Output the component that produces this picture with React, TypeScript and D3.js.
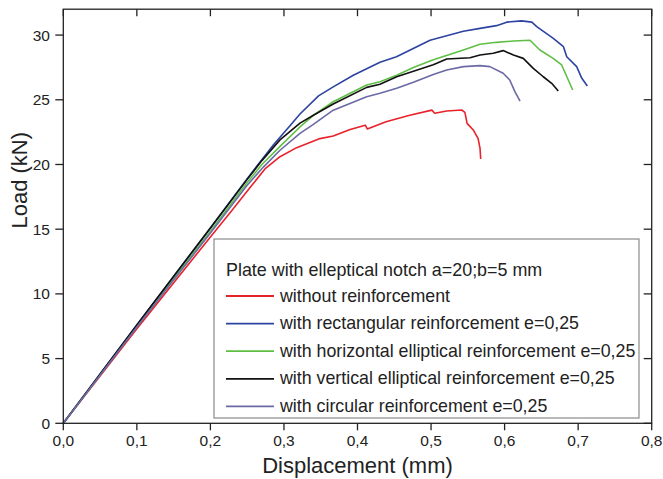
import React from 'react';
import * as d3 from 'd3';

const xTickValues = [0, 0.1, 0.2, 0.3, 0.4, 0.5, 0.6, 0.7, 0.8];
const xTickLabels = ['0,0', '0,1', '0,2', '0,3', '0,4', '0,5', '0,6', '0,7', '0,8'];
const yTickValues = [0, 5, 10, 15, 20, 25, 30];

const legendTitle = 'Plate with elleptical notch a=20;b=5 mm';
const seriesNames = [
  'without reinforcement',
  'with rectangular reinforcement e=0,25',
  'with horizontal elliptical reinforcement e=0,25',
  'with vertical elliptical reinforcement e=0,25',
  'with circular reinforcement e=0,25',
];
const seriesColors = ['#e8222b', '#2d43a0', '#5fbf45', '#111111', '#6a6aa6'];

// without reinforcement
const redX = [0, 0.1, 0.2, 0.23, 0.255, 0.275, 0.2946, 0.3173, 0.349, 0.367, 0.39, 0.4106, 0.4133, 0.4388, 0.471, 0.5011, 0.505, 0.5213, 0.5417, 0.546, 0.549, 0.5574, 0.564, 0.5666, 0.5675];
const redY = [0, 7.3, 14.4, 16.5, 18.3, 19.7, 20.6, 21.3, 22.0, 22.2, 22.7, 23.04, 22.75, 23.3, 23.8, 24.2, 23.96, 24.13, 24.21, 24.03, 23.18, 22.67, 22.0, 21.25, 20.42];

// rectangular
const blueX = [0, 0.1, 0.2, 0.25, 0.2855, 0.3082, 0.3218, 0.347, 0.367, 0.3943, 0.4306, 0.453, 0.4986, 0.5439, 0.5666, 0.589, 0.6029, 0.623, 0.637, 0.6437, 0.6662, 0.68, 0.6845, 0.698, 0.705, 0.7125];
const blueY = [0, 7.6, 15.1, 18.9, 21.5, 23.0, 23.9, 25.3, 26.0, 26.9, 27.9, 28.33, 29.6, 30.3, 30.52, 30.73, 31.0, 31.1, 31.0, 30.65, 29.75, 29.1, 28.33, 27.56, 26.66, 26.07];

// horizontal elliptical
const greenX = [0, 0.1, 0.2, 0.25, 0.27, 0.2946, 0.3218, 0.34, 0.367, 0.4125, 0.4306, 0.4533, 0.476, 0.503, 0.544, 0.5666, 0.589, 0.612, 0.6345, 0.648, 0.666, 0.6776, 0.6866, 0.6926];
const greenY = [0, 7.5, 14.85, 18.6, 20.0, 21.4, 22.9, 23.8, 24.85, 26.14, 26.4, 26.9, 27.5, 28.1, 28.85, 29.29, 29.44, 29.54, 29.6, 28.85, 28.2, 27.69, 26.53, 25.76];

// vertical elliptical
const blackX = [0, 0.1, 0.2, 0.25, 0.27, 0.2946, 0.3218, 0.34, 0.367, 0.4125, 0.4306, 0.4533, 0.476, 0.503, 0.5213, 0.553, 0.5666, 0.5846, 0.598, 0.612, 0.6254, 0.639, 0.6526, 0.664, 0.673];
const blackY = [0, 7.6, 15.1, 18.85, 20.3, 21.9, 23.2, 23.8, 24.67, 25.96, 26.2, 26.78, 27.2, 27.7, 28.15, 28.25, 28.46, 28.6, 28.8, 28.46, 28.2, 27.43, 26.78, 26.27, 25.68];

// circular
const purpleX = [0, 0.1, 0.2, 0.25, 0.272, 0.2946, 0.3218, 0.34, 0.367, 0.4125, 0.4306, 0.4533, 0.476, 0.503, 0.5213, 0.544, 0.5666, 0.58, 0.598, 0.607, 0.614, 0.621];
const purpleY = [0, 7.45, 14.7, 18.4, 19.8, 21.1, 22.4, 23.1, 24.2, 25.24, 25.5, 25.89, 26.35, 26.95, 27.3, 27.56, 27.64, 27.56, 27.05, 26.53, 25.63, 24.9];

const seriesX = [redX, blueX, greenX, blackX, purpleX];
const seriesY = [redY, blueY, greenY, blackY, purpleY];

const W = 663;
const H = 479;
const FONT = 'Liberation Sans, Arial, Helvetica, sans-serif';

export default function App() {
  const x = d3.scaleLinear().domain([0, 0.8]).range([63.3, 651.7]);
  const y = d3.scaleLinear().domain([0, 32]).range([423.3, 9.2]);
  const line = d3
    .line<[number, number]>()
    .x((d) => x(d[0]))
    .y((d) => y(d[1]));

  const [x0, x1] = x.range();
  const [y0, y1] = y.range();

  const legend = { x: 214, y: 239, w: 425, h: 179 };
  const rowY = (i: number) => 301.5 + i * 27.6;

  return (
    <svg
      width={W}
      height={H}
      style={{ position: 'absolute', left: 0, top: 0, background: '#fff' }}
      fontFamily={FONT}
    >
      <rect x={0} y={0} width={W} height={H} fill="#fff" />
      {/* curves */}
      {seriesX.map((xs, i) => (
        <path
          key={i}
          d={line(xs.map((v, j) => [v, seriesY[i][j]] as [number, number])) || ''}
          fill="none"
          stroke={seriesColors[i]}
          strokeWidth={1.6}
          strokeLinejoin="round"
        />
      ))}
      {/* frame */}
      <rect x={x0} y={y1} width={x1 - x0} height={y0 - y1} fill="none" stroke="#222" strokeWidth={1.3} />
      {/* x ticks */}
      {xTickValues.map((v, i) => (
        <g key={'xt' + i}>
          <line x1={x(v)} x2={x(v)} y1={y0} y2={y0 + 7} stroke="#222" strokeWidth={1.3} />
          <line x1={x(v)} x2={x(v)} y1={y1} y2={y1 + 7} stroke="#222" strokeWidth={1.3} />
          <text x={x(v)} y={446} textAnchor="middle" fontSize={15.5} fill="#222">
            {xTickLabels[i]}
          </text>
        </g>
      ))}
      {/* y ticks */}
      {yTickValues.map((v, i) => (
        <g key={'yt' + i}>
          <line x1={x0 - 8} x2={x0} y1={y(v)} y2={y(v)} stroke="#222" strokeWidth={1.3} />
          <line x1={x1 - 8} x2={x1} y1={y(v)} y2={y(v)} stroke="#222" strokeWidth={1.3} />
          <text x={50} y={y(v)} dy="0.35em" textAnchor="end" fontSize={15.5} fill="#222">
            {v}
          </text>
        </g>
      ))}
      {/* axis titles */}
      <text x={(x0 + x1) / 2} y={473} textAnchor="middle" fontSize={22} fill="#222">
        Displacement (mm)
      </text>
      <text
        transform={`translate(27,${(y0 + y1) / 2 - 36}) rotate(-90)`}
        textAnchor="middle"
        fontSize={22}
        fill="#222"
      >
        Load (kN)
      </text>
      {/* legend */}
      <rect
        x={legend.x}
        y={legend.y}
        width={legend.w}
        height={legend.h}
        fill="#fff"
        stroke="#8a8a8a"
        strokeWidth={1.2}
      />
      <text x={226} y={275.5} fontSize={17.9} fill="#222">
        {legendTitle}
      </text>
      {seriesNames.map((name, i) => (
        <g key={'lg' + i}>
          <line x1={226} x2={274} y1={rowY(i) - 5.5} y2={rowY(i) - 5.5} stroke={seriesColors[i]} strokeWidth={1.8} />
          <text x={280} y={rowY(i)} fontSize={17.8} fill="#222">
            {name}
          </text>
        </g>
      ))}
    </svg>
  );
}
